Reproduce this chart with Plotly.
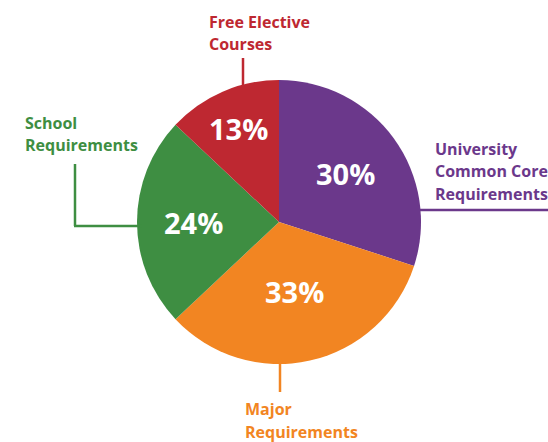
import math
import plotly.graph_objects as go

categories = ["University Common Core Requirements", "Major Requirements",
              "School Requirements", "Free Elective Courses"]
values = [30, 33, 24, 13]
pct_labels = ["30%", "33%", "24%", "13%"]
label_lines = [["University", "Common Core", "Requirements"],
               ["Major", "Requirements"],
               ["School", "Requirements"],
               ["Free Elective", "Courses"]]

colors = ["#6B388B", "#F28522", "#3E8E42", "#BE2831"]

W, H = 548, 442
CX, CY, R = 279, 222, 142  # pie centre/radius in px (layout)

def px(x):
    return x / W

def py(y):
    return 1 - y / H

fig = go.Figure(go.Pie(
    labels=categories,
    values=values,
    sort=False,
    direction="clockwise",
    rotation=0,
    marker=dict(colors=colors, line=dict(width=0)),
    textinfo="none",
    hoverinfo="label+percent",
    showlegend=False,
    domain=dict(x=[px(CX - R), px(CX + R)], y=[py(CY + R), py(CY - R)]),
))

# percentage labels placed along each slice's mid-angle
label_radius = [0.58, 0.5, 0.6, 0.72]
total = sum(values)
cum = 0
annotations = []
for v, t, rf in zip(values, pct_labels, label_radius):
    mid = (cum + v / 2) / total * 2 * math.pi
    cum += v
    x = CX + R * rf * math.sin(mid)
    y = CY - R * rf * math.cos(mid)
    annotations.append(dict(
        x=px(x), y=py(y), xref="paper", yref="paper", text=t, showarrow=False,
        font=dict(family="Open Sans", size=29, color="white", weight="bold"),
        xanchor="center", yanchor="middle"))

FONT = "Open Sans"
# (left x, first line centre y) for each category label, px
label_pos = [(433, 149), (243, 409), (23, 123), (207, 22)]
LINE_STEP = 22.5

for lines, (lx, ly), col in zip(label_lines, label_pos, colors):
    for i, line in enumerate(lines):
        annotations.append(dict(
            x=px(lx), y=py(ly + i * LINE_STEP), xref="paper", yref="paper",
            text=line, showarrow=False, xanchor="left", yanchor="middle",
            font=dict(family=FONT, size=16, color=col, weight="bold")))

shapes = []
def seg(x0, y0, x1, y1, color):
    shapes.append(dict(type="line", xref="paper", yref="paper",
                       x0=px(x0), y0=py(y0), x1=px(x1), y1=py(y1),
                       line=dict(color=color, width=2.5)))

seg(243, 58, 243, 90, colors[3])
seg(75, 164, 75, 226, colors[2])
seg(74, 226, 142, 226, colors[2])
seg(415, 210, 548, 210, colors[0])
seg(280, 358, 280, 392, colors[1])

fig.update_layout(
    width=W, height=H,
    margin=dict(l=0, r=0, t=0, b=0),
    paper_bgcolor="white", plot_bgcolor="white",
    annotations=annotations, shapes=shapes,
)

fig.write_html("out.html", config={"displayModeBar": False},
               post_script="document.body.style.margin='0';")
